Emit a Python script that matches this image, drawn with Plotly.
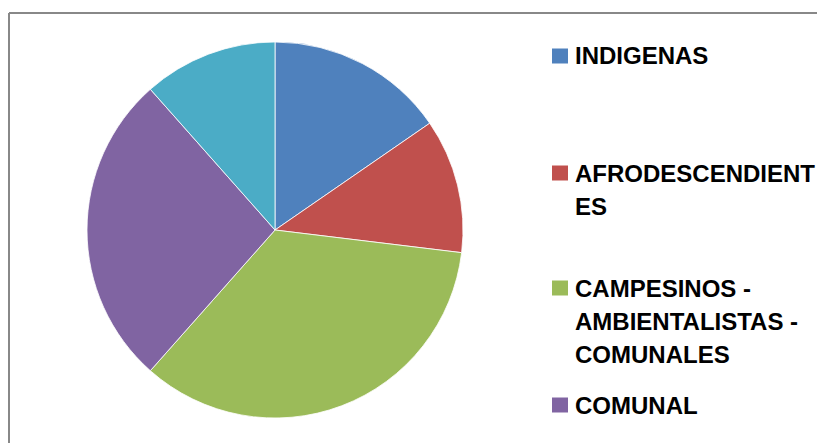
import plotly.graph_objects as go

labels = ["INDIGENAS", "AFRODESCENDIENTES", "CAMPESINOS - AMBIENTALISTAS - COMUNALES", "COMUNAL", "OTROS"]
values = [4, 3, 9, 7, 3]
colors = ["#4F81BD", "#C0504D", "#9BBB59", "#8064A2", "#4BACC6"]
legend_lines = [
    ["INDIGENAS"],
    ["AFRODESCENDIENT", "ES"],
    ["CAMPESINOS -", "AMBIENTALISTAS -", "COMUNALES"],
    ["COMUNAL"],
]

W, H = 825, 443
OFF = 8  # page body margin offset

def px(x):
    return (x - OFF) / W

def py(y):
    return 1 - (y - OFF) / H

fig = go.Figure(go.Pie(
    labels=labels,
    values=values,
    marker=dict(colors=colors, line=dict(color="white", width=0.8)),
    sort=False,
    direction="clockwise",
    rotation=0,
    textinfo="none",
    hoverinfo="label+percent",
    domain=dict(x=[px(87), px(463)], y=[py(418), py(42)]),
    showlegend=False,
))

font_fam = "Liberation Sans, Arial, sans-serif"
entry_first_line_y = [56, 173, 288, 405]
line_gap = 33
annotations = []
shapes = []
for i, lines in enumerate(legend_lines):
    y0 = entry_first_line_y[i]
    shapes.append(dict(type="rect", xref="paper", yref="paper",
                       x0=px(552), x1=px(568), y0=py(y0 - 7.5), y1=py(y0 + 7.5),
                       fillcolor=colors[i], line=dict(width=0)))
    for j, t in enumerate(lines):
        annotations.append(dict(text="<b>" + t + "</b>", xref="paper", yref="paper",
                                x=px(573), y=py(y0 + j * line_gap), xanchor="left", yanchor="middle",
                                showarrow=False, font=dict(family=font_fam, size=24, color="black")))

# chart border (partially visible)
shapes.append(dict(type="line", xref="paper", yref="paper", x0=px(9), x1=px(840), y0=py(13), y1=py(13),
                   line=dict(color="#888888", width=2)))
shapes.append(dict(type="line", xref="paper", yref="paper", x0=px(9), x1=px(9), y0=py(13), y1=py(460),
                   line=dict(color="#888888", width=2)))

fig.update_layout(
    width=W, height=H,
    margin=dict(l=0, r=0, t=0, b=0),
    paper_bgcolor="white", plot_bgcolor="white",
    annotations=annotations, shapes=shapes,
)
fig.write_html("out.html")
